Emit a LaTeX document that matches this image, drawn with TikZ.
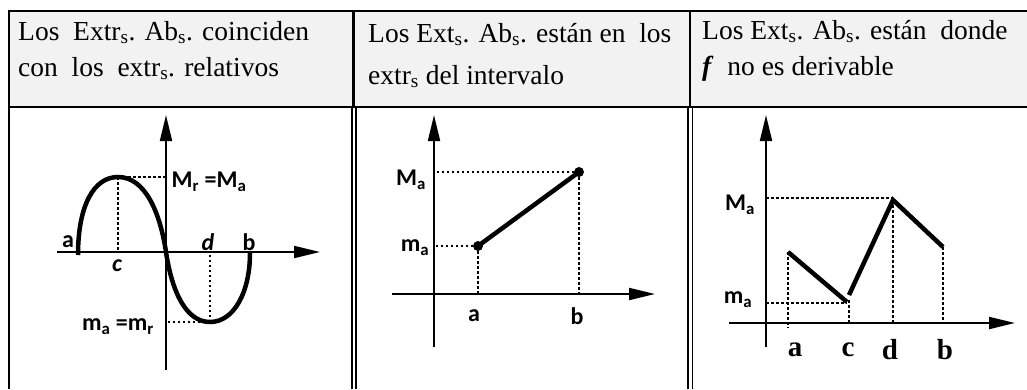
\documentclass[tikz,border=0pt]{standalone}
\usepackage{fontspec}
\setmainfont{Liberation Serif}
\newfontfamily\lblfont{Carlito}
\usetikzlibrary{arrows.meta}

\begin{document}
\begin{tikzpicture}[x=1pt, y=-1pt, >={Triangle[length=26pt, width=12pt]},
    axis/.style={line width=2pt, ->},
    curve/.style={line width=4.5pt},
    guide/.style={line width=2.5pt, dash pattern=on 2.5pt off 2.5pt},
    hdr/.style={anchor=base west, inner sep=0pt, font=\fontsize{27.5}{33}\selectfont},
    lbl/.style={inner sep=0pt, font=\lblfont\bfseries\fontsize{24}{28}\selectfont},
    tick/.style={inner sep=0pt, font=\bfseries\fontsize{29}{34}\selectfont}]
    \useasboundingbox (0,0) rectangle (1027,389);

    % Table: grey header band and rules
    \fill[gray!10] (9,11) rectangle (1027,107);
    \draw[line width=2pt] (1027,11) -- (9,11) -- (9,389);
    \draw[line width=2pt] (9,107) -- (1027,107);
    \draw[line width=3pt] (353.5,11) -- (353.5,107);
    \draw[line width=2pt] (690,11) -- (690,107);
    \draw[line width=1.5pt] (352,107) -- (352,389);
    \draw[line width=1.5pt] (356,107) -- (356,389);
    \draw[line width=1.5pt] (688,107) -- (688,389);
    \draw[line width=1.5pt] (692.5,107) -- (692.5,389);

    % Header texts
    \node[hdr] (h1a) at (18,40) {Los\ \ Extr\textsubscript{s}. Ab\textsubscript{s}. coinciden};
    \node[hdr] (h1b) at (18,76) {con\ \ los\ \ extr\textsubscript{s}. relativos};
    \node[hdr] (h2a) at (368,42) {Los Ext\textsubscript{s}. Ab\textsubscript{s}. están en\ \ los};
    \node[hdr] (h2b) at (368,84) {extr\textsubscript{s} del intervalo};
    \node[hdr] (h3a) at (702,39) {Los Ext\textsubscript{s}. Ab\textsubscript{s}. están\ \ donde};
    \node[hdr] (h3b) at (702,75) {\textbf{\textit{f}}\ \ no es derivable};

    % Column 1: relative extrema
    \coordinate (O1) at (166,252);
    \coordinate (a1) at (78,255);
    \coordinate (c1) at (118,177);
    \coordinate (d1) at (210,322);
    \coordinate (b1) at (250,253);
    \draw[axis] (166,370) -- (166,115);
    \draw[axis] (57,252) -- (320,252);
    \draw[guide] (c1) -- (c1 |- O1);
    \draw[guide] (c1) -- (c1 -| O1);
    \draw[guide] (d1) -- (d1 |- O1);
    \draw[guide] (d1) -- (d1 -| O1);
    \draw[curve] (a1) .. controls (78,205) and (94,177) .. (c1)
        .. controls (145,177) and (160,212) .. (O1)
        .. controls (172,292) and (186,322) .. (d1)
        .. controls (234,322) and (250,292) .. (b1);
    \node[lbl] (Mr) at (209,182) {M\textsubscript{r} =M\textsubscript{a}};
    \node[lbl] (mr) at (118,327) {m\textsubscript{a} =m\textsubscript{r}};
    \node[lbl] (la1) at (68,242) {a};
    \node[lbl] (lb1) at (249,242) {b};
    \node[lbl] (lc1) at (117,266) {\itshape c};
    \node[lbl] (ld1) at (208,242) {\itshape d};

    % Column 2: extrema at the ends of the interval
    \coordinate (O2) at (434,294);
    \coordinate (A2) at (478,246);
    \coordinate (B2) at (579,172);
    \draw[axis] (434,347) -- (434,115);
    \draw[axis] (392,294) -- (655,294);
    \draw[guide] (A2) -- (A2 -| O2);
    \draw[guide] (B2) -- (B2 -| O2);
    \draw[guide] (A2) -- (A2 |- O2);
    \draw[guide] (B2) -- (B2 |- O2);
    \draw[curve] (A2) -- (B2);
    \fill (A2) circle (5pt);
    \fill (B2) circle (5pt);
    \node[lbl] (Ma2) at (411,180) {M\textsubscript{a}};
    \node[lbl] (ma2) at (415,248) {m\textsubscript{a}};
    \node[lbl] (la2) at (474,316) {a};
    \node[lbl] (lb2) at (577,316) {b};

    % Column 3: extrema where f is not differentiable
    \coordinate (O3) at (766,323);
    \coordinate (a3) at (788,252);
    \coordinate (c3) at (847,302);
    \coordinate (c3s) at (849,295);
    \coordinate (d3) at (893,200);
    \coordinate (b3) at (943,247);
    \draw[axis] (766,347) -- (766,115);
    \draw[axis] (729,323) -- (1015,323);
    \draw[guide] (766,198) -- (893,198);
    \draw[guide] (766,303) -- (847,303);
    \draw[guide] (a3) -- (788,328);
    \draw[guide] (849,300) -- (849,323);
    \draw[guide] (d3) -- (d3 |- O3);
    \draw[guide] (b3) -- (b3 |- O3);
    \draw[curve] (a3) -- (c3);
    \draw[curve] (c3s) -- (d3) -- (b3);
    \node[lbl] (Ma3) at (740,205) {M\textsubscript{a}};
    \node[lbl] (ma3) at (738,300) {m\textsubscript{a}};
    \node[tick] (la3) at (795,350) {a};
    \node[tick] (lc3) at (848,350) {c};
    \node[tick] (ld3) at (890,350) {d};
    \node[tick] (lb3) at (945,350) {b};
\end{tikzpicture}
\end{document}
